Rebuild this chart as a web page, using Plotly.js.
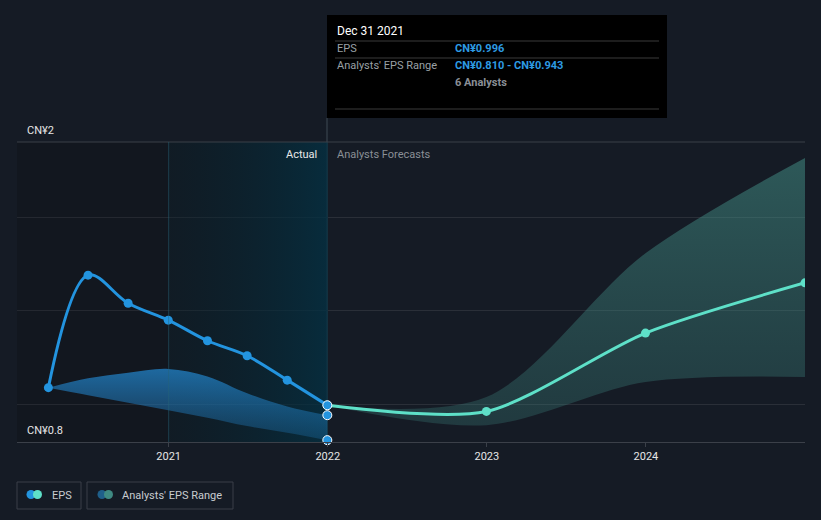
<!DOCTYPE html>
<html>
<head>
<meta charset="utf-8">
<script src="https://cdn.plot.ly/plotly-3.0.1.min.js"></script>
<style>
html,body{margin:0;padding:0;background:#151b25;}
#chart{width:821px;height:520px;}
</style>
</head>
<body>
<div id="chart"></div>
<script>
// ---- data ----
const actualDates = ['2020-03-31','2020-06-30','2020-09-30','2020-12-31','2021-03-31','2021-06-30','2021-09-30','2021-12-31'];
const actualEps   = [1.09, 1.69, 1.54, 1.45, 1.34, 1.26, 1.13, 0.996];
const pastRangeHigh = [1.09, 1.14, 1.17, 1.19, 1.15, 1.06, 0.99, 0.943];
const pastRangeLow  = [1.09, 1.05, 1.01, 0.97, 0.93, 0.885, 0.85, 0.810];

const forecastDates = ['2021-12-31','2022-12-31','2023-12-31','2024-12-31'];
const forecastEps   = [0.996, 0.963, 1.381, 1.649];
const forecastHigh  = [0.996, 1.04, 1.807, 2.315];
const forecastLow   = [0.996, 0.89, 1.12, 1.147];

const xRange = ['2020-01-19','2024-12-31'];
const yRange = [0.8, 2.4];
const yGrid = [1.0, 1.5, 2.0, 2.4];
const yLabels = ['CN¥2', 'CN¥0.8'];
const xTickVals = ['2021-01-01','2022-01-01','2023-01-01','2024-01-01'];
const xTickText = ['2021','2022','2023','2024'];
const actualRegion = ['2021-01-01','2022-01-01'];

const tooltipDate = 'Dec 31 2021';
const tooltipEps = 'CN¥0.996';
const tooltipRange = 'CN¥0.810 - CN¥0.943';
const tooltipAnalysts = '6 Analysts';

// ---- layout helpers (pixel -> paper) ----
const L = 17, R = 805, T = 142, B = 442;
const px = x => (x - L) / (R - L);
const py = y => (B - y) / (B - T);

const BLUE = '#2394df';
const TEAL = '#5ee0c8';
const FONT = 'Roboto, "Open Sans", sans-serif';

const last = actualDates.length - 1;

const traces = [
  {x:[xRange[0], actualRegion[0], actualRegion[0], xRange[0]], y:[yRange[0], yRange[0], yRange[1], yRange[1]],
   mode:'lines', fill:'toself', fillcolor:'rgba(0,0,0,0.14)', line:{width:0}, hoverinfo:'skip', showlegend:false},
  {x:[actualRegion[0], actualRegion[1], actualRegion[1], actualRegion[0]], y:[yRange[0], yRange[0], yRange[1], yRange[1]],
   mode:'lines', fill:'toself', line:{width:0}, hoverinfo:'skip', showlegend:false,
   fillgradient:{type:'horizontal', colorscale:[[0,'rgba(8,28,36,0.35)'],[1,'rgba(4,48,66,0.8)']]}},
  {x:actualDates, y:pastRangeLow, mode:'lines', line:{width:0, shape:'spline', smoothing:1}, hoverinfo:'skip', showlegend:false},
  {x:actualDates, y:pastRangeHigh, mode:'lines', line:{width:0, shape:'spline', smoothing:1}, fill:'tonexty', hoverinfo:'skip', showlegend:false,
   fillgradient:{type:'vertical', colorscale:[[0,'rgba(35,130,200,0.25)'],[1,'rgba(35,140,215,0.7)']]}},
  {x:forecastDates, y:forecastLow, mode:'lines', line:{width:0, shape:'spline', smoothing:0.9}, hoverinfo:'skip', showlegend:false},
  {x:forecastDates, y:forecastHigh, mode:'lines', line:{width:0, shape:'spline', smoothing:0.9}, fill:'tonexty', hoverinfo:'skip', showlegend:false,
   fillgradient:{type:'vertical', colorscale:[[0,'rgba(60,130,125,0.3)'],[1,'rgba(70,150,140,0.5)']]}},
  {x:forecastDates, y:forecastEps, mode:'lines+markers', line:{color:TEAL, width:3, shape:'spline', smoothing:0.75},
   marker:{color:TEAL, size:9}, hoverinfo:'skip', showlegend:false},
  {x:actualDates, y:actualEps, mode:'lines+markers', line:{color:BLUE, width:3, shape:'spline', smoothing:1},
   marker:{color:BLUE, size:9}, hoverinfo:'skip', showlegend:false},
  {x:[actualDates[last], actualDates[last], actualDates[last]], y:[actualEps[last], pastRangeHigh[last], pastRangeLow[last]],
   mode:'markers', marker:{color:BLUE, size:9, line:{color:'#ffffff', width:1}}, hoverinfo:'skip', showlegend:false, cliponaxis:false}
];

const shapes = [
  {type:'line', xref:'paper', yref:'paper', x0:0, x1:1, y0:1, y1:1, line:{color:'#3b4049', width:1}},
  {type:'line', xref:'x', yref:'paper', x0:actualRegion[0], x1:actualRegion[0], y0:0, y1:1, line:{color:'rgba(40,100,120,0.5)', width:1}},
  {type:'rect', xref:'paper', yref:'paper', x0:px(327), x1:px(667), y0:py(118), y1:py(15), fillcolor:'#000000', line:{width:0}, layer:'above'},
  {type:'line', xref:'paper', yref:'paper', x0:px(327), x1:px(327), y0:0, y1:py(118), line:{color:'#3e4a55', width:1}, layer:'below'},
  {type:'line', xref:'paper', yref:'paper', x0:px(335), x1:px(659), y0:py(41), y1:py(41), line:{color:'#3a3a3a', width:1}, layer:'above'},
  {type:'line', xref:'paper', yref:'paper', x0:px(335), x1:px(659), y0:py(58), y1:py(58), line:{color:'#3a3a3a', width:1}, layer:'above'},
  {type:'line', xref:'paper', yref:'paper', x0:px(335), x1:px(659), y0:py(109), y1:py(109), line:{color:'#3a3a3a', width:1}, layer:'above'},
  {type:'rect', xref:'paper', yref:'paper', x0:px(17), x1:px(81), y0:py(509), y1:py(482), line:{color:'#3a3f48', width:1}, fillcolor:'rgba(0,0,0,0)'},
  {type:'rect', xref:'paper', yref:'paper', x0:px(87), x1:px(233), y0:py(509), y1:py(482), line:{color:'#3a3f48', width:1}, fillcolor:'rgba(0,0,0,0)'},
];
function dot(cx, cy, r, color){
  return {type:'circle', xref:'paper', yref:'paper', x0:px(cx-r), x1:px(cx+r), y0:py(cy+r), y1:py(cy-r), fillcolor:color, line:{width:0}};
}
shapes.push(dot(31, 494.5, 4.5, '#2394df'));
shapes.push(dot(37.5, 494.5, 4.5, TEAL));
shapes.push(dot(102, 494.5, 4.5, '#1f5f8a'));
shapes.push(dot(108.5, 494.5, 4.5, '#3f8a82'));

function ann(text, x, y, opts){
  return Object.assign({text:text, xref:'paper', yref:'paper', x:px(x), y:py(y), xanchor:'left', yanchor:'middle',
    showarrow:false, font:{family:FONT, size:11, color:'#c8ccd0'}}, opts||{});
}
const annotations = [
  ann(yLabels[0], 25, 130, {font:{family:FONT, size:11, color:'#e6e6e6'}}),
  ann(yLabels[1], 25, 430, {font:{family:FONT, size:11, color:'#e6e6e6'}}),
  ann('Actual', 319, 154, {xanchor:'right', font:{family:FONT, size:11, color:'#e8e8e8'}}),
  ann('Analysts Forecasts', 335, 154, {font:{family:FONT, size:11, color:'#8a8f96'}}),
  ann(tooltipDate, 335, 31, {font:{family:FONT, size:12, color:'#ffffff'}}),
  ann('EPS', 335, 49, {font:{family:FONT, size:11, color:'#9aa0a6'}}),
  ann('<b>'+tooltipEps+'</b>', 453, 49, {font:{family:FONT, size:11, color:'#2d9be3'}}),
  ann("Analysts' EPS Range", 335, 66, {font:{family:FONT, size:11, color:'#9aa0a6'}}),
  ann('<b>'+tooltipRange+'</b>', 453, 66, {font:{family:FONT, size:11, color:'#2d9be3'}}),
  ann('<b>'+tooltipAnalysts+'</b>', 453, 83, {font:{family:FONT, size:11, color:'#8a8f96'}}),
  ann('EPS', 50, 495, {font:{family:FONT, size:11, color:'#c8ccd0'}}),
  ann("Analysts' EPS Range", 120, 495, {font:{family:FONT, size:11, color:'#c8ccd0'}}),
];

const layout = {
  width:821, height:520,
  margin:{l:L, r:821-R, t:T, b:520-B, pad:0},
  paper_bgcolor:'#151b25', plot_bgcolor:'#151b25',
  showlegend:false, hovermode:false,
  font:{family:FONT, color:'#e0e0e0', size:11},
  xaxis:{type:'date', range:xRange, tickvals:xTickVals, ticktext:xTickText, showgrid:false, zeroline:false,
         showline:true, linecolor:'#3b4049', linewidth:1, ticks:'outside', ticklen:4, tickcolor:'#3b4049',
         tickfont:{family:FONT, size:11, color:'#e6e6e6'}, fixedrange:true},
  yaxis:{range:yRange, tickvals:yGrid, showticklabels:false, showgrid:true, gridcolor:'#2a2f38', gridwidth:1,
         zeroline:false, showline:false, fixedrange:true},
  shapes:shapes,
  annotations:annotations
};

Plotly.newPlot('chart', traces, layout, {displayModeBar:false, staticPlot:true});
</script>
</body>
</html>
